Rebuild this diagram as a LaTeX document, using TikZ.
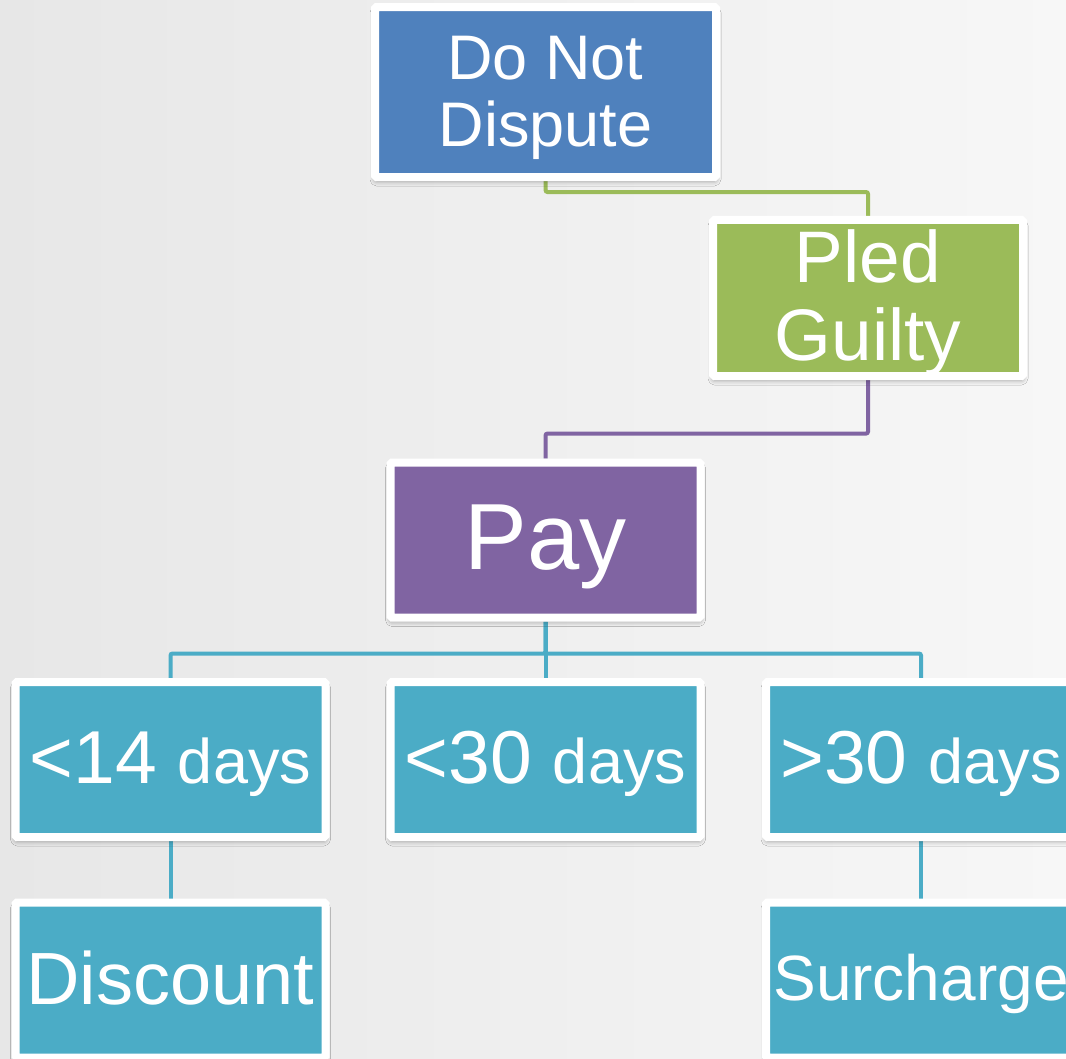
\documentclass[tikz,border=0pt]{standalone}
\usepackage{fontspec}
\setmainfont{Liberation Sans}
\usetikzlibrary{backgrounds}
\usetikzlibrary{shadows.blur}

\definecolor{tierblue}{HTML}{4F81BD}
\definecolor{tiergreen}{HTML}{9BBB59}
\definecolor{tierpurple}{HTML}{8064A2}
\definecolor{tierteal}{HTML}{4BACC6}
\definecolor{bgleft}{HTML}{E7E7E7}
\definecolor{bgright}{HTML}{F7F7F7}

\newcommand{\dayssize}{\fontsize{63}{68}\selectfont}

\begin{document}
\begin{tikzpicture}[x=1pt, y=-1pt,
    tierbox/.style={draw=white, line width=8pt, rounded corners=1.5pt, text=white,
      align=center, inner sep=0pt, minimum width=310pt, minimum height=155pt,
      blur shadow={shadow xshift=0pt, shadow yshift=-4pt, shadow blur radius=5pt, shadow opacity=40}},
    textat/.style 2 args={text height=#1, text depth=#2},
    link/.style={line width=4pt, rounded corners=2pt}]
  \useasboundingbox (0, 0) rectangle (1066, 1058);
  % boxes
  \node[tierbox, fill=tierblue, minimum width=341pt, minimum height=170pt,
    font=\fontsize{63}{67}\selectfont] (dispute) at (545.5, 92) {\rule{0pt}{55pt}Do Not\\Dispute};
  \node[tierbox, fill=tiergreen, font=\fontsize{73}{78}\selectfont] (guilty) at (868, 298) {\rule{0pt}{63pt}Pled\\Guilty};
  \node[tierbox, fill=tierpurple, textat={67pt}{9pt}, font=\fontsize{94}{100}\selectfont] (pay) at (545.5, 540) {Pay};
  \node[tierbox, fill=tierteal, textat={55pt}{8pt}, font=\fontsize{75}{80}\selectfont] (short) at (170.5, 759.5) {<14 {\dayssize days}};
  \node[tierbox, fill=tierteal, textat={55pt}{8pt}, font=\fontsize{75}{80}\selectfont] (mid) at (545.5, 759.5) {<30 {\dayssize days}};
  \node[tierbox, fill=tierteal, textat={55pt}{8pt}, font=\fontsize{75}{80}\selectfont] (long) at (921, 759.5) {>30 {\dayssize days}};
  \node[tierbox, fill=tierteal, textat={55pt}{7pt}, font=\fontsize{74}{80}\selectfont] (discount) at (170.5, 980) {Discount};
  \node[tierbox, fill=tierteal, textat={48pt}{8pt}, font=\fontsize{64}{70}\selectfont] (surcharge) at (921, 980) {Surcharge};
  % background and connectors
  \begin{scope}[on background layer]
    \shade[left color=bgleft, right color=bgright] (0, 0) rectangle (1066, 1058);
    \draw[link, tiergreen] (dispute.south) -- ++(0, 11) -| (guilty.north);
    \draw[link, tierpurple] (guilty.south) -- ++(0, 53.5) -| (pay.north);
    \draw[link, tierteal] (pay.south) -- ++(0, 32) -| (short.north);
    \draw[link, tierteal] (pay.south) -- ++(0, 32) -| (long.north);
    \draw[link, tierteal] (pay.south) -- (mid.north);
    \draw[link, tierteal] (short.south) -- (discount.north);
    \draw[link, tierteal] (long.south) -- (surcharge.north);
  \end{scope}
\end{tikzpicture}
\end{document}
